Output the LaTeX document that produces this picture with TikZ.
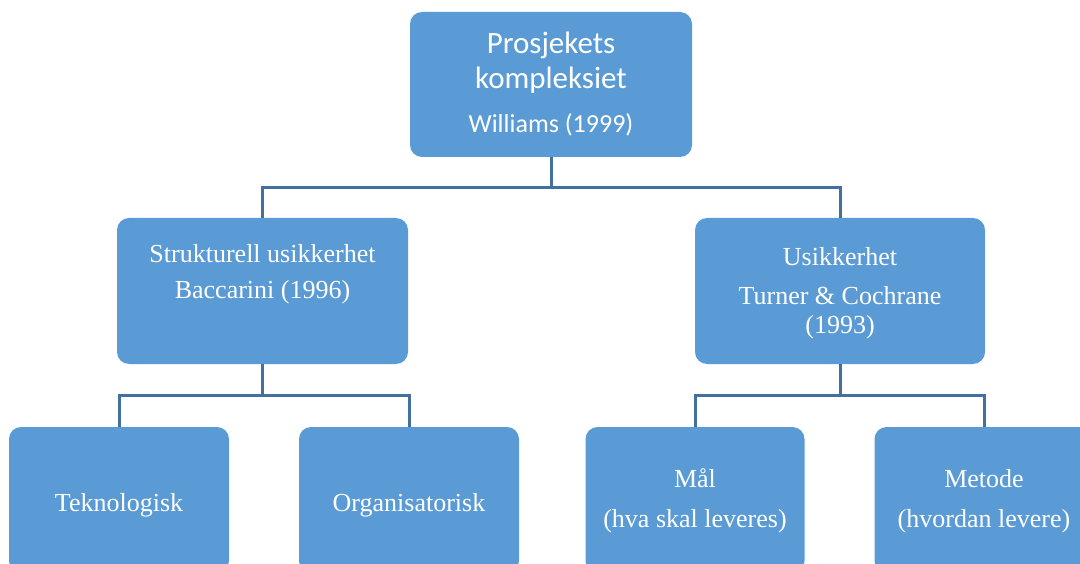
\documentclass[tikz,border=0pt]{standalone}
\usepackage{fontspec}
\setmainfont{Liberation Serif}
\newfontfamily\calibri{Carlito}
\definecolor{boxblue}{HTML}{5B9BD5}
\definecolor{lineblue}{HTML}{41719C}
% width, height, first baseline, text
\newcommand{\boxtext}[4]{\parbox[c][#2][t]{#1}{\centering\rule{0pt}{#3}#4}}

\begin{document}
\begin{tikzpicture}[x=1pt,y=-1pt,
  blok/.style={fill=boxblue,rounded corners=12pt,inner sep=0pt,outer sep=0pt,text=white},
  link/.style={draw=lineblue,line width=3pt}]
\useasboundingbox (0,0) rectangle (1080,564);
\clip (0,0) rectangle (1080,564);

% top level
\node[blok] (kompleks) at (551,84.5) {\boxtext{282pt}{145pt}{42pt}{\calibri\fontsize{31}{35}\selectfont Prosjekets\\kompleksiet\\[9pt]\fontsize{26}{35}\selectfont Williams (1999)}};

% second level
\node[blok] (struktur) at (262.5,291) {\boxtext{291pt}{146pt}{45pt}{\fontsize{26}{30}\selectfont Strukturell usikkerhet\\[6pt]Baccarini (1996)}};
\node[blok] (usikker) at (840,291) {\boxtext{290pt}{146pt}{48pt}{\fontsize{26}{30}\selectfont Usikkerhet\\[9pt]Turner \& Cochrane\\[-1pt](1993)}};

% third level
\node[blok] (tekno) at (119,500) {\boxtext{220pt}{146pt}{84pt}{\fontsize{26}{30}\selectfont Teknologisk}};
\node[blok] (organ) at (409,500) {\boxtext{220pt}{146pt}{84pt}{\fontsize{26}{30}\selectfont Organisatorisk}};
\node[blok] (maal) at (695,500) {\boxtext{219pt}{146pt}{60pt}{\fontsize{26}{30}\selectfont Mål\\[10pt](hva skal leveres)}};
\node[blok] (metode) at (984,500) {\boxtext{219pt}{146pt}{60pt}{\fontsize{26}{30}\selectfont Metode\\[10pt](hvordan levere)}};

% connectors
\coordinate (delt1) at (551,188);
\coordinate (delt2) at (262.5,395.5);
\coordinate (delt3) at (840,395.5);
\draw[link] (kompleks.south) -- (delt1) -| (struktur.north);
\draw[link] (delt1) -| (usikker.north);
\draw[link] (struktur.south) -- (delt2) -| (tekno.north);
\draw[link] (delt2) -| (organ.north);
\draw[link] (usikker.south) -- (delt3) -| (maal.north);
\draw[link] (delt3) -| (metode.north);
\end{tikzpicture}
\end{document}
